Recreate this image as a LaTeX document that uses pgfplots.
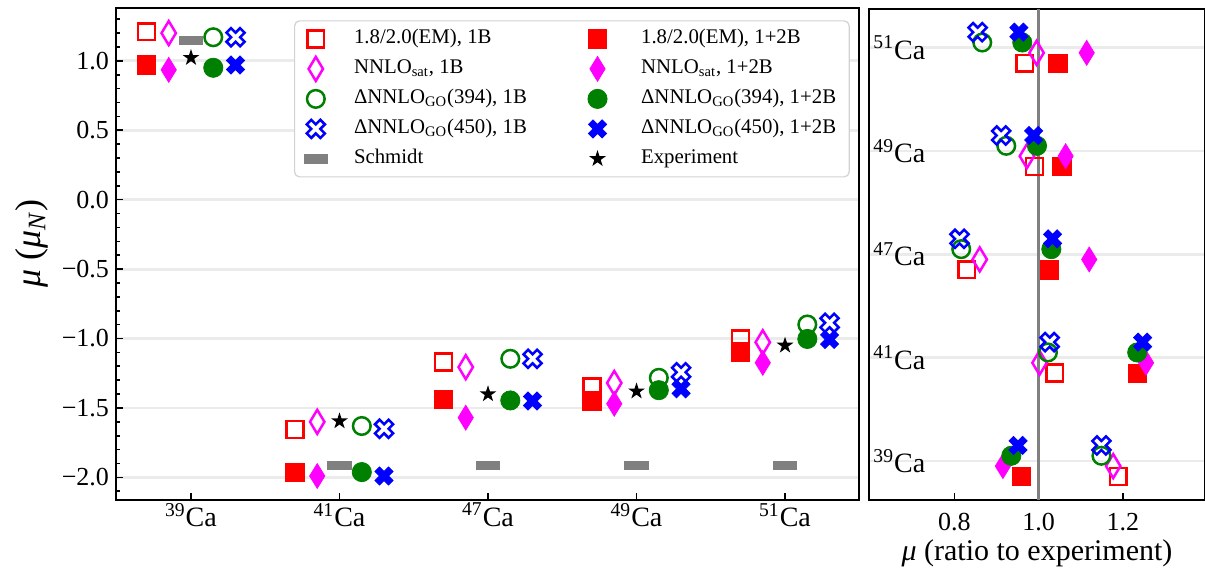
\documentclass[border=0pt]{standalone}
\usepackage{fontspec}
\setmainfont{Liberation Serif}
\usepackage{pgfplots}
\pgfplotsset{compat=1.18}

\definecolor{mred}{HTML}{FF0000}
\definecolor{mmag}{HTML}{FF00FF}
\definecolor{mgreen}{HTML}{008000}
\definecolor{mblue}{HTML}{0000FF}
\definecolor{mgrey}{HTML}{808080}
\definecolor{gridc}{HTML}{EBEBEB}

% thin diamond
\pgfdeclareplotmark{tdiam}{%
  \pgfpathmoveto{\pgfqpoint{0pt}{6.0pt}}%
  \pgfpathlineto{\pgfqpoint{3.6pt}{0pt}}%
  \pgfpathlineto{\pgfqpoint{0pt}{-6.0pt}}%
  \pgfpathlineto{\pgfqpoint{-3.6pt}{0pt}}%
  \pgfpathclose\pgfusepathqstroke}
\pgfdeclareplotmark{tdiam*}{%
  \pgfpathmoveto{\pgfqpoint{0pt}{6.2pt}}%
  \pgfpathlineto{\pgfqpoint{3.8pt}{0pt}}%
  \pgfpathlineto{\pgfqpoint{0pt}{-6.2pt}}%
  \pgfpathlineto{\pgfqpoint{-3.8pt}{0pt}}%
  \pgfpathclose\pgfusepathqfillstroke}
% thick X
\def\xmkpath{%
  \pgftransformrotate{45}%
  \pgfpathmoveto{\pgfqpoint{-1.6pt}{-4.8pt}}%
  \pgfpathlineto{\pgfqpoint{-1.6pt}{-1.6pt}}%
  \pgfpathlineto{\pgfqpoint{-4.8pt}{-1.6pt}}%
  \pgfpathlineto{\pgfqpoint{-4.8pt}{1.6pt}}%
  \pgfpathlineto{\pgfqpoint{-1.6pt}{1.6pt}}%
  \pgfpathlineto{\pgfqpoint{-1.6pt}{4.8pt}}%
  \pgfpathlineto{\pgfqpoint{1.6pt}{4.8pt}}%
  \pgfpathlineto{\pgfqpoint{1.6pt}{1.6pt}}%
  \pgfpathlineto{\pgfqpoint{4.8pt}{1.6pt}}%
  \pgfpathlineto{\pgfqpoint{4.8pt}{-1.6pt}}%
  \pgfpathlineto{\pgfqpoint{1.6pt}{-1.6pt}}%
  \pgfpathlineto{\pgfqpoint{1.6pt}{-4.8pt}}%
  \pgfpathclose}
\pgfdeclareplotmark{xmk}{\xmkpath\pgfusepathqstroke}
\pgfdeclareplotmark{xmk*}{\xmkpath\pgfusepathqfillstroke}
% filled five-pointed star
\pgfdeclareplotmark{fstar}{%
  \pgfpathmoveto{\pgfqpoint{0pt}{4.4pt}}%
  \pgfpathlineto{\pgfqpoint{-0.988pt}{1.360pt}}%
  \pgfpathlineto{\pgfqpoint{-4.185pt}{1.360pt}}%
  \pgfpathlineto{\pgfqpoint{-1.599pt}{-0.519pt}}%
  \pgfpathlineto{\pgfqpoint{-2.586pt}{-3.560pt}}%
  \pgfpathlineto{\pgfqpoint{0pt}{-1.681pt}}%
  \pgfpathlineto{\pgfqpoint{2.586pt}{-3.560pt}}%
  \pgfpathlineto{\pgfqpoint{1.599pt}{-0.519pt}}%
  \pgfpathlineto{\pgfqpoint{4.185pt}{1.360pt}}%
  \pgfpathlineto{\pgfqpoint{0.988pt}{1.360pt}}%
  \pgfpathclose\pgfusepathqfill}
% Schmidt-value bar
\pgfdeclareplotmark{sbar}{%
  \pgfpathrectangle{\pgfqpoint{-6.1pt}{-2.35pt}}{\pgfqpoint{12.2pt}{4.7pt}}%
  \pgfusepathqfill}

\newcommand{\iso}[1]{{\fontsize{14}{16}\selectfont\textsuperscript{#1}Ca}}

\pgfplotsset{
  em1/.style={only marks, mred, mark=square, mark size=4.2pt, mark options={line width=1.25pt}},
  em2/.style={only marks, mred, mark=square*, mark size=4.6pt, mark options={line width=0.4pt, fill=mred}},
  sat1/.style={only marks, mmag, mark=tdiam, mark options={line width=1.25pt}},
  sat2/.style={only marks, mmag, mark=tdiam*, mark options={line width=0.4pt, fill=mmag}},
  go1/.style={only marks, mgreen, mark=o, mark size=4.4pt, mark options={line width=1.25pt}},
  go2/.style={only marks, mgreen, mark=*, mark size=4.8pt, mark options={line width=0.4pt, fill=mgreen}},
  gf1/.style={only marks, mblue, mark=xmk, mark options={line width=1.25pt}},
  gf2/.style={only marks, mblue, mark=xmk*, mark options={line width=0.4pt, fill=mblue}},
  sch/.style={only marks, mgrey, mark=sbar, mark options={fill=mgrey}},
  expt/.style={only marks, black, mark=fstar, mark options={fill=black}},
  cmn/.style={
    scale only axis,
    axis line style={line width=1pt},
    tick style={black, line width=0.8pt},
    major tick length=3.6pt, minor tick length=2pt,
    tick align=inside, tick pos=left,
    ymajorgrids, grid style={gridc, line width=1.4pt},
    tick label style={font=\fontsize{13}{15}\selectfont},
  },
}

\begin{document}
\begin{tikzpicture}
% magnetic moments
\begin{axis}[cmn,
  at={(0pt,0pt)}, anchor=south west,
  width=371.5pt, height=245.75pt,
  xmin=-0.505, xmax=4.498, ymin=-2.163, ymax=1.377,
  xtick={0,1,2,3,4},
  xticklabels={\iso{39},\iso{41},\iso{47},\iso{49},\iso{51}},
  xticklabel style={yshift=2pt},
  ytick={-2,-1.5,-1,-0.5,0,0.5,1},
  yticklabels={−2.0,−1.5,−1.0,−0.5,0.0,0.5,1.0},
  minor ytick={-2.1,-1.9,-1.8,-1.7,-1.6,-1.4,-1.3,-1.2,-1.1,-0.9,-0.8,-0.7,-0.6,-0.4,-0.3,-0.2,-0.1,0.1,0.2,0.3,0.4,0.6,0.7,0.8,0.9,1.1,1.2,1.3},
  every axis y label/.style={at={(axis description cs:-0.1137,0.522)}, rotate=90, anchor=center, font=\fontsize{18}{20}\selectfont},
  ylabel={\textit{μ} (\textit{μ}\textsubscript{\textit{N}})},
  legend columns=2, legend cell align=left,
  legend style={at={(0.2396,0.976)}, anchor=north west,
    draw=gray!35, line width=0.6pt, rounded corners=2.5pt, fill=white,
    font=\fontsize{10.4}{12}\selectfont,
    inner xsep=4.5pt, inner ysep=2pt, row sep=1pt,
    nodes={inner sep=2pt, text height=7.4pt, text depth=2.6pt},
    /tikz/column 1/.append style={column sep=11pt},
    /tikz/column 2/.append style={column sep=28.5pt},
    /tikz/column 3/.append style={column sep=15pt}},
]
\addplot[em1] coordinates {(-0.3,1.21) (0.7,-1.655) (1.7,-1.168) (2.7,-1.35) (3.7,-1.004)};
\addlegendentry{1.8/2.0(EM), 1B}
\addplot[em2] coordinates {(-0.3,0.97) (0.7,-1.966) (1.7,-1.439) (2.7,-1.45) (3.7,-1.095)};
\addlegendentry{1.8/2.0(EM), 1+2B}
\addplot[sat1] coordinates {(-0.15,1.20) (0.85,-1.60) (1.85,-1.206) (2.85,-1.32) (3.85,-1.027)};
\addlegendentry{NNLO\textsubscript{sat}, 1B}
\addplot[sat2] coordinates {(-0.15,0.935) (0.85,-1.99) (1.85,-1.57) (2.85,-1.47) (3.85,-1.175)};
\addlegendentry{NNLO\textsubscript{sat}, 1+2B}
\addplot[go1] coordinates {(0.15,1.17) (1.15,-1.63) (2.15,-1.146) (3.15,-1.283) (4.15,-0.899)};
\addlegendentry{ΔNNLO\textsubscript{GO}(394), 1B}
\addplot[go2] coordinates {(0.15,0.95) (1.15,-1.962) (2.15,-1.446) (3.15,-1.372) (4.15,-1.003)};
\addlegendentry{ΔNNLO\textsubscript{GO}(394), 1+2B}
\addplot[gf1] coordinates {(0.3,1.17) (1.3,-1.65) (2.3,-1.146) (3.3,-1.243) (4.3,-0.887)};
\addlegendentry{ΔNNLO\textsubscript{GO}(450), 1B}
\addplot[gf2] coordinates {(0.3,0.97) (1.3,-1.99) (2.3,-1.45) (3.3,-1.362) (4.3,-1.007)};
\addlegendentry{ΔNNLO\textsubscript{GO}(450), 1+2B}
\addplot[sch] coordinates {(0,1.148) (1,-1.913) (2,-1.913) (3,-1.913) (4,-1.913)};
\addlegendentry{Schmidt}
\addplot[expt] coordinates {(0,1.022) (1,-1.595) (2,-1.40) (3,-1.38) (4,-1.05)};
\addlegendentry{Experiment}
\end{axis}

% ratios to experiment
\begin{axis}[cmn,
  at={(376.5pt,0pt)}, anchor=south west,
  width=168pt, height=245.75pt,
  xmin=0.597, xmax=1.395, ymin=-0.378, ymax=4.379,
  xtick={0.8,1.0,1.2}, xticklabels={0.8,1.0,1.2},
  xticklabel style={yshift=-3pt},
  ytick={0,1,2,3,4},
  yticklabels={\iso{39},\iso{41},\iso{47},\iso{49},\iso{51}},
  yticklabel style={anchor=west, xshift=-1.3pt},
  ytick style={draw=none},
  every axis x label/.style={at={(axis description cs:0.5,-0.1221)}, anchor=base, font=\fontsize{15}{17}\selectfont},
  xlabel={\textit{μ} (ratio to experiment)},
]
\addplot[mgrey, line width=1.2pt] coordinates {(1,-0.378) (1,4.379)};
\addplot[em1] coordinates {(1.189,-0.15) (1.038,0.85) (0.829,1.85) (0.990,2.85) (0.967,3.85)};
\addplot[em2] coordinates {(0.959,-0.15) (1.234,0.85) (1.026,1.85) (1.055,2.85) (1.046,3.85)};
\addplot[sat1] coordinates {(1.177,-0.05) (1.002,0.95) (0.860,1.95) (0.972,2.95) (0.995,3.95)};
\addplot[sat2] coordinates {(0.915,-0.05) (1.255,0.95) (1.120,1.95) (1.064,2.95) (1.114,3.95)};
\addplot[go1] coordinates {(1.149,0.05) (1.022,1.05) (0.816,2.05) (0.923,3.05) (0.866,4.05)};
\addplot[go2] coordinates {(0.935,0.05) (1.234,1.05) (1.030,2.05) (0.996,3.05) (0.961,4.05)};
\addplot[gf1] coordinates {(1.149,0.15) (1.026,1.15) (0.812,2.15) (0.911,3.15) (0.855,4.15)};
\addplot[gf2] coordinates {(0.951,0.15) (1.247,1.15) (1.033,2.15) (0.988,3.15) (0.953,4.15)};
\end{axis}

\pgfresetboundingbox
\path (-58pt,-34pt) rectangle (544.5pt,250pt);
\end{tikzpicture}
\end{document}
